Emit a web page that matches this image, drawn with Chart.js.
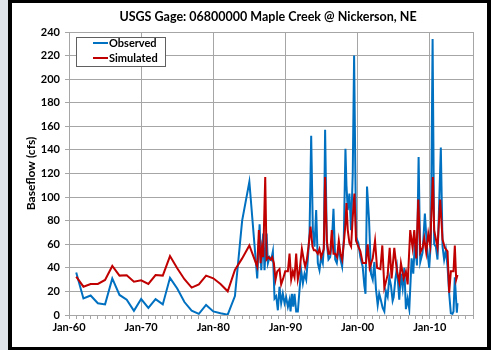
<!DOCTYPE html>
<html>
<head>
<meta charset="utf-8">
<script src="https://cdn.jsdelivr.net/npm/chart.js@4.4.1/dist/chart.umd.min.js"></script>
<style>
  body { margin: 0; width: 491px; height: 350px; background: #000; position: relative; overflow: hidden; font-family: Lato, "Noto Sans", sans-serif; }
  #slide { position: absolute; left: 0; top: 0; width: 8px; height: 350px; background: #dde3e8; }
  #panel { position: absolute; left: 12px; top: 3px; width: 475px; height: 344px; background: #fff; }
  #chart { position: absolute; left: 0; top: 0; }
  #title { position: absolute; left: 106px; top: 6px; width: 300px; text-align: center; font-weight: bold; font-size: 12.5px; line-height: 16px; color: #000; white-space: nowrap; }
  #legend { position: absolute; left: 64px; top: 34px; width: 88px; height: 28px; border: 1px solid #606060; background: #fff; }
  .item { position: absolute; left: 16px; height: 14px; font-weight: bold; font-size: 11px; line-height: 14px; white-space: nowrap; }
  .item i { display: inline-block; width: 15px; height: 2px; vertical-align: middle; margin-right: 1px; position: relative; top: -1px; }
</style>
</head>
<body>
<div id="slide"></div>
<div id="panel">
  <canvas id="chart" width="475" height="344"></canvas>
  <div id="title">USGS Gage: 06800000 Maple Creek @ Nickerson, NE</div>
  <div id="legend">
    <div class="item" style="top:-2px"><i style="background:#0070c0"></i>Observed</div>
    <div class="item" style="top:13px"><i style="background:#c00000"></i>Simulated</div>
  </div>
</div>
<script>
// baseflow record, decimal years; annual values until the mid 80s, then denser
const obsYears = [
  1961, 1962, 1963, 1964, 1965, 1966, 1967, 1968, 1969, 1970,
  1971, 1972, 1973, 1974, 1975, 1976, 1977, 1978, 1979, 1980,
  1981, 1982, 1983, 1984, 1985,
  1986.09, 1986.42, 1986.65, 1986.92, 1987.1, 1987.39, 1987.57, 1987.8, 1988.03, 1988.26,
  1988.49, 1988.72, 1988.95, 1989.18, 1989.41, 1989.64, 1989.88, 1990.1, 1990.34, 1990.57,
  1990.71, 1990.9, 1991.08, 1991.26, 1991.49, 1991.72, 1991.95, 1992.18, 1992.42, 1992.65,
  1992.88, 1993.1, 1993.34, 1993.57, 1993.8, 1994.03, 1994.26, 1994.49, 1994.72, 1994.95,
  1995.18, 1995.32, 1995.5, 1995.74, 1995.97, 1996.2, 1996.43, 1996.66, 1996.9, 1997.12,
  1997.4, 1997.63, 1997.86, 1998.09, 1998.32, 1998.46, 1998.64, 1998.87, 1999.1, 1999.33,
  1999.52, 1999.79, 2000.11, 2000.39, 2000.71, 2000.94, 2001.1, 2001.31, 2001.59, 2001.86,
  2002.1, 2002.33, 2002.55, 2002.79, 2003.0, 2003.25, 2003.48, 2003.71, 2003.94, 2004.17,
  2004.4, 2004.63, 2004.86, 2005.0, 2005.23, 2005.46, 2005.78, 2006.0, 2006.25, 2006.48,
  2006.7, 2006.94, 2007.17, 2007.49, 2007.72, 2007.95, 2008.23, 2008.46, 2008.69, 2009.01,
  2009.33, 2009.61, 2009.93, 2010.16, 2010.4, 2010.62, 2010.85, 2011.08, 2011.54, 2011.78,
  2012.0, 2012.24, 2012.47, 2012.7, 2012.93, 2013.15, 2013.3, 2013.48, 2013.76, 2013.85
];
const obsFlow = [
  36, 14, 16.5, 10, 9, 31, 17, 13, 3.5, 13.5,
  6, 13.5, 9, 31.5, 22.5, 11, 3.7, 1, 8.5, 3,
  1.5, 0.3, 16, 80, 113,
  31, 77, 38, 69, 38, 69, 44, 49, 47, 54,
  14, 16, 4, 24, 10, 18, 10, 15, 7, 13,
  3, 18, 7, 18, 3, 3, 21, 38, 27, 35,
  30, 47, 69, 152, 72, 58, 89, 44, 38, 49,
  44, 58, 157, 61, 47, 49, 61, 90, 47, 44,
  58, 47, 41, 64, 141, 110, 89, 103, 72, 120,
  220, 66, 61, 49, 41, 25, 18, 109, 81, 35,
  30, 45, 22, 8.5, 18, 12, 6, 3, 20, 15.6,
  32, 25, 12, 15, 30, 40, 13, 35, 23, 40,
  5, 14, 5, 48, 35, 62, 42, 134, 45, 53,
  86, 58, 40, 62, 234, 60, 58, 47, 142, 58,
  47, 55, 41, 18, 1.5, 1, 3, 32, 2, 10
];

const simYears = [
  1961, 1962, 1963, 1964, 1965, 1966, 1967, 1968, 1969, 1970,
  1971, 1972, 1973, 1974, 1975, 1976, 1977, 1978, 1979, 1980,
  1981, 1982, 1983, 1984, 1985,
  1986.09, 1986.32, 1986.55, 1986.74, 1986.92, 1987.2, 1987.39, 1987.66, 1987.94, 1988.17,
  1988.4, 1988.63, 1988.86, 1989.18, 1989.41, 1989.69, 1989.97, 1990.34, 1990.57, 1990.8,
  1991.03, 1991.26, 1991.49, 1991.72, 1991.95, 1992.28, 1992.55, 1992.74, 1992.97, 1993.2,
  1993.48, 1993.75, 1993.94, 1994.17, 1994.49, 1994.72, 1994.95, 1995.32, 1995.5, 1995.74,
  1995.97, 1996.2, 1996.43, 1996.66, 1996.9, 1997.16, 1997.4, 1997.63, 1997.86, 1998.09,
  1998.32, 1998.46, 1998.64, 1998.87, 1999.1, 1999.33, 1999.56, 1999.79, 2000.11, 2000.39,
  2000.71, 2000.94, 2001.17, 2001.4, 2001.68, 2002.1, 2002.42, 2002.7, 2003.16, 2003.43,
  2003.71, 2004.17, 2004.45, 2004.72, 2005.09, 2005.46, 2005.78, 2006.01, 2006.38, 2006.7,
  2006.94, 2007.3, 2007.63, 2007.86, 2008.14, 2008.41, 2008.69, 2009.01, 2009.24, 2009.52,
  2009.8, 2010.07, 2010.44, 2010.62, 2011.08, 2011.45, 2011.78, 2012.1, 2012.47, 2012.7,
  2012.93, 2013.3, 2013.48, 2013.67, 2013.85
];
const simFlow = [
  32.5, 24, 26.3, 26.3, 29.7, 41.6, 33.4, 33.7, 28.3, 29.4,
  26.3, 33.9, 33.4, 50, 39.6, 30.3, 23.2, 26, 33.4, 31.1,
  26.3, 20.1, 38.2, 48, 59,
  41, 72, 44, 57, 49, 117, 47, 49, 47, 49,
  44, 30, 37, 39, 26, 31, 37, 37, 52, 30,
  37, 32, 52, 30, 37, 56, 46.5, 41, 47, 58,
  75, 58, 55, 55, 52, 56, 49, 56, 117, 63,
  52, 52, 72, 52, 52, 49, 63, 52, 47, 61,
  77, 95, 72, 61, 58, 83, 103, 63, 58, 54,
  44, 44, 44, 60, 40, 48, 63, 40, 39, 59,
  23, 34, 57, 31, 57, 37, 28, 44, 31, 37,
  26, 72, 57, 72, 48, 98, 53, 57, 65, 53,
  69, 59, 117, 72, 57, 98, 64, 57, 54, 19,
  37, 37, 59, 30, 34
];

const yTicks = [0, 20, 40, 60, 80, 100, 120, 140, 160, 180, 200, 220, 240];
const decades = [1960, 1970, 1980, 1990, 2000, 2010];

const toPoints = (xs, ys) => xs.map((x, i) => ({ x: x, y: ys[i] }));

// gray frame round the plot area (top and right sides aren't axes)
const plotBorder = {
  id: 'plotBorder',
  afterDraw(chart) {
    const { ctx, chartArea: a } = chart;
    ctx.save();
    ctx.strokeStyle = '#a6a6a6';
    ctx.lineWidth = 1;
    ctx.strokeRect(a.left + 0.5, a.top + 0.5, a.right - a.left, a.bottom - a.top);
    ctx.restore();
  }
};

const tickFont = { family: 'Lato', weight: 'bold', size: 11 };

new Chart(document.getElementById('chart'), {
  type: 'line',
  data: {
    datasets: [
      {
        label: 'Observed',
        data: toPoints(obsYears, obsFlow),
        borderColor: '#0070c0',
        borderWidth: 2,
        pointRadius: 0,
        tension: 0,
        order: 2
      },
      {
        label: 'Simulated',
        data: toPoints(simYears, simFlow),
        borderColor: '#c00000',
        borderWidth: 2,
        pointRadius: 0,
        tension: 0,
        order: 1
      }
    ]
  },
  options: {
    responsive: false,
    animation: false,
    layout: { padding: { left: 0, top: 29, right: 14, bottom: 0 } },
    plugins: { legend: { display: false }, tooltip: { enabled: false } },
    scales: {
      x: {
        type: 'linear',
        min: 1960,
        max: 2016,
        afterFit: s => { s.height = 32; },
        afterBuildTicks: s => {
          s.ticks = [];
          for (let y = 1960; y <= 2016; y++) s.ticks.push({ value: y });
        },
        ticks: {
          autoSkip: false,
          maxRotation: 0,
          padding: 2,
          color: '#000',
          font: tickFont,
          callback: v => decades.includes(v) ? 'Jan-' + String(v % 100).padStart(2, '0') : ''
        },
        grid: {
          color: c => (c.tick && decades.includes(c.tick.value)) ? '#a6a6a6' : 'rgba(0,0,0,0)',
          tickColor: '#a6a6a6',
          tickLength: 4
        },
        border: { color: '#a6a6a6' }
      },
      y: {
        min: 0,
        max: 240,
        afterFit: s => { s.width = 57; },
        afterBuildTicks: s => { s.ticks = yTicks.map(v => ({ value: v })); },
        ticks: { padding: 5, color: '#000', font: tickFont },
        grid: { color: '#a6a6a6', tickLength: 4 },
        border: { color: '#a6a6a6' },
        title: {
          display: true,
          text: 'Baseflow (cfs)',
          color: '#000',
          font: { family: 'Lato', weight: 'bold', size: 12 },
          padding: { top: 12, bottom: 0 }
        }
      }
    }
  },
  plugins: [plotBorder]
});
</script>
</body>
</html>
